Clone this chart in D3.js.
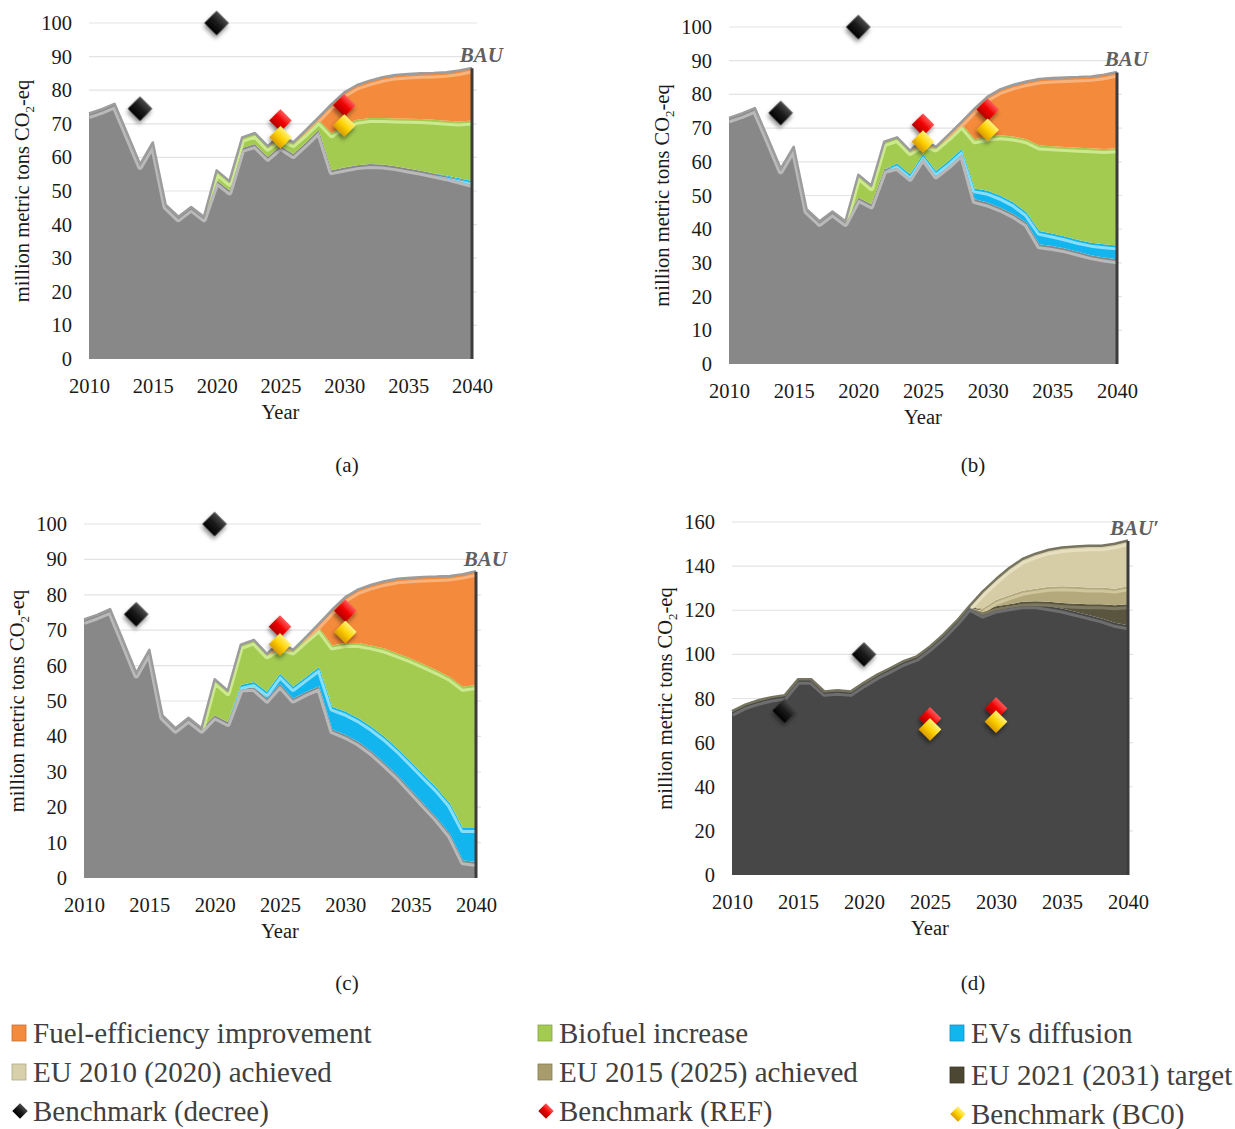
<!DOCTYPE html>
<html>
<head>
<meta charset="utf-8">
<script src="https://cdn.jsdelivr.net/npm/d3@7/dist/d3.min.js"></script>
<style>
  body { margin: 0; background: #fff; }
  svg { font-family: "Liberation Serif", "Times New Roman", serif; }
</style>
</head>
<body>
<div id="chart-area"></div>
<script>
// ---------------- data (million metric tons CO2-eq) ----------------
const years = [2010, 2011, 2012, 2013, 2014, 2015, 2016, 2017, 2018, 2019, 2020,
  2021, 2022, 2023, 2024, 2025, 2026, 2027, 2028, 2029, 2030,
  2031, 2032, 2033, 2034, 2035, 2036, 2037, 2038, 2039, 2040];
const xTicks = [2010, 2015, 2020, 2025, 2030, 2035, 2040];
const yTicks100 = [0, 10, 20, 30, 40, 50, 60, 70, 80, 90, 100];
const yTicks160 = [0, 20, 40, 60, 80, 100, 120, 140, 160];

// BAU total (top of the stack in a, b, c)
const bau = [72.9, 74.2, 75.8, 66.9, 57.8, 64.3, 45.8, 42.2, 45.1, 42.2, 56,
  52.8, 65.8, 67.1, 63.2, 66.5, 64.3, 68, 71.8, 75.7, 79.2,
  81.4, 82.7, 83.7, 84.4, 84.7, 84.9, 85, 85.2, 85.7, 86.5];

// (a) upper edges of remaining / EVs / biofuel layers
const aRemain = [72.9, 74.2, 75.8, 66.9, 57.8, 64.3, 45.8, 42.2, 45.1, 42.2, 53.2,
  50.2, 62.8, 64, 60.2, 63.5, 61, 64.5, 68.2, 56.2, 57,
  57.7, 58, 57.9, 57.4, 56.7, 56, 55.2, 54.4, 53.4, 52.4];
const aEv = [72.9, 74.2, 75.8, 66.9, 57.8, 64.3, 45.8, 42.2, 45.1, 42.2, 53.2,
  50.2, 62.8, 64, 60.2, 63.5, 61, 64.5, 68.2, 56.2, 57,
  57.7, 58, 57.9, 57.4, 56.7, 56, 55.3, 54.6, 53.8, 53];
const aBio = [72.9, 74.2, 75.8, 66.9, 57.8, 64.3, 45.8, 42.2, 45.1, 42.2, 56,
  52.8, 65.8, 67.1, 63.2, 66, 64.3, 67.6, 71.2, 67.2, 69.7,
  71.2, 71.7, 71.7, 71.6, 71.5, 71.4, 71.2, 70.9, 70.7, 71];

// (b)
const bRemain = [72.9, 74.2, 75.8, 66.9, 57.8, 64.3, 45.8, 42.2, 45.1, 42.2, 49.4,
  47.4, 57.8, 58.8, 55.6, 61.6, 56.3, 59.3, 62.8, 48.9, 47.9,
  46.4, 44.5, 42, 35.5, 35, 34.3, 33.3, 32.3, 31.6, 31.1];
const bEv = [72.9, 74.2, 75.8, 66.9, 57.8, 64.3, 45.8, 42.2, 45.1, 42.2, 49.4,
  47.4, 57.8, 59.5, 56.3, 62.3, 57.3, 60.3, 63.8, 52.1, 51.4,
  49.9, 47.9, 45, 39.5, 38.7, 37.8, 36.8, 36, 35.5, 35.2];
const bBio = [72.9, 74.2, 75.8, 66.9, 57.8, 64.3, 45.8, 42.2, 45.1, 42.2, 56,
  52.8, 65.8, 67.1, 63.2, 65.5, 64.3, 67.6, 71.2, 66.7, 67.5,
  67.9, 67.5, 66.7, 64.8, 64.6, 64.4, 64.2, 64, 63.8, 64];

// (c)
const cRemain = [72.9, 74.2, 75.8, 66.9, 57.8, 64.3, 45.8, 42.2, 45.1, 42.2, 46,
  44.1, 53.8, 54, 50.7, 54.9, 50.7, 52.6, 54.2, 42, 40.5,
  38.5, 35.8, 32.5, 29, 25, 21, 17, 12.5, 5, 4.5];
const cEv = [72.9, 74.2, 75.8, 66.9, 57.8, 64.3, 45.8, 42.2, 45.1, 42.2, 46,
  44.1, 54.5, 55.4, 52.6, 57.7, 54, 56.8, 59.6, 48.4, 47,
  45.1, 42.7, 39.9, 36.6, 32.9, 29.1, 25.4, 21.1, 14.1, 14.1];
const cBio = [72.9, 74.2, 75.8, 66.9, 57.8, 64.3, 45.8, 42.2, 45.1, 42.2, 56,
  52.8, 65.8, 67.1, 63.2, 65.3, 64.3, 67.6, 70.7, 65.7, 66.4,
  66.4, 65.7, 64.8, 63.4, 62, 60.4, 58.7, 56.8, 54, 54.5];

// (d) BAU' and upper edges of remaining / EU 2021 / EU 2015 layers
const bauD = [74, 77, 79, 80.4, 81.3, 88.5, 88.5, 83, 83.5, 83, 87,
  90.6, 93.6, 96.7, 98.9, 103.4, 108.7, 114.8, 121.8, 128.3, 133.9,
  138.9, 143, 145.4, 147.2, 148.2, 148.7, 149, 149, 149.9, 151.4];
const dRemain = [74, 77, 79, 80.4, 81.3, 88.5, 88.5, 83, 83.5, 83, 87,
  90.6, 93.6, 96.7, 98.9, 103.4, 108.7, 114.8, 121.8, 118.5, 120.8,
  121.8, 122.7, 122.7, 121.8, 120.8, 119.3, 117.8, 116.3, 114.3, 113.2];
const dEu2021 = [74, 77, 79, 80.4, 81.3, 88.5, 88.5, 83, 83.5, 83, 87,
  90.6, 93.6, 96.7, 98.9, 103.4, 108.7, 114.8, 121.8, 120, 121.8,
  122.7, 123.8, 124.1, 123.8, 123.3, 123, 122.7, 122.7, 122.3, 122.7];
const dEu2015 = [74, 77, 79, 80.4, 81.3, 88.5, 88.5, 83, 83.5, 83, 87,
  90.6, 93.6, 96.7, 98.9, 103.4, 108.7, 114.8, 121.8, 120.8, 124.6,
  126.8, 128.8, 129.8, 130.6, 130.9, 130.6, 130.3, 130.3, 129.8, 130.9];

// benchmarks
const decreeYears = [2014, 2020];
const decreeVals = [74.5, 100];
const refYears = [2025, 2030];
const refVals = [71, 75.5];
const bc0Years = [2025, 2030];
const bc0Vals = [66, 69.5];

// ---------------- styling ----------------
const zeros = years.map(() => 0);
const col = {
  gray: '#888888', grayLight: '#b9b9b9',
  blue: '#12b5ee', blueLight: '#86defb',
  green: '#a3cb50', greenLight: '#cde98f',
  orange: '#f48a3b', orangeLight: '#f9b27a',
  dark: '#474747', darkLight: '#6e6e6e',
  eu2021: '#5a553f', eu2021Light: '#7d7860',
  eu2015: '#b3a97d', eu2015Light: '#cfc69d',
  eu2010: '#d6cda7', eu2010Light: '#e6dfc0'
};

const svg = d3.select('#chart-area')
  .append('svg')
  .attr('width', 1235)
  .attr('height', 1129);

const defs = svg.append('defs');

// drop shadow for markers
const sh = defs.append('filter').attr('id', 'shadow')
  .attr('x', '-50%').attr('y', '-50%').attr('width', '200%').attr('height', '200%');
sh.append('feDropShadow').attr('dx', 1.5).attr('dy', 3)
  .attr('stdDeviation', 2).attr('flood-color', '#000').attr('flood-opacity', 0.45);

// diamond gradients
const diamondGrads = {
  black: ['#4a4a4a', '#1a1a1a', '#000000'],
  red: ['#ff5a5a', '#f00000', '#b00000'],
  yellow: ['#fff27a', '#ffd200', '#d99a00']
};
Object.entries(diamondGrads).forEach(([k, stops]) => {
  const lg = defs.append('linearGradient').attr('id', 'dg-' + k)
    .attr('x1', 0).attr('y1', 0).attr('x2', 0).attr('y2', 1);
  lg.append('stop').attr('offset', '0%').attr('stop-color', stops[0]);
  lg.append('stop').attr('offset', '50%').attr('stop-color', stops[1]);
  lg.append('stop').attr('offset', '100%').attr('stop-color', stops[2]);
});

const markerSets = [
  {xs: decreeYears, vs: decreeVals, grad: 'black', size: 300},
  {xs: refYears, vs: refVals, grad: 'red', size: 255},
  {xs: bc0Years, vs: bc0Vals, grad: 'yellow', size: 255}
];

const panels = [
  {id: 'a', left: 89, right: 472, top: 23, bottom: 359, max: 100, yTicks: yTicks100,
    label: '(a)', lx: 347, ly: 472, bauText: 'BAU', total: bau, edge: '#9c9c9c',
    layers: [
      {lo: zeros, hi: aRemain, fill: col.gray, light: col.grayLight},
      {lo: aRemain, hi: aEv, fill: col.blue, light: col.blueLight},
      {lo: aEv, hi: aBio, fill: col.green, light: col.greenLight},
      {lo: aBio, hi: bau, fill: col.orange, light: col.orangeLight}]},
  {id: 'b', left: 729, right: 1117, top: 27, bottom: 364, max: 100, yTicks: yTicks100,
    label: '(b)', lx: 973, ly: 472, bauText: 'BAU', total: bau, edge: '#9c9c9c',
    layers: [
      {lo: zeros, hi: bRemain, fill: col.gray, light: col.grayLight},
      {lo: bRemain, hi: bEv, fill: col.blue, light: col.blueLight},
      {lo: bEv, hi: bBio, fill: col.green, light: col.greenLight},
      {lo: bBio, hi: bau, fill: col.orange, light: col.orangeLight}]},
  {id: 'c', left: 84, right: 476, top: 524, bottom: 878, max: 100, yTicks: yTicks100,
    label: '(c)', lx: 347, ly: 990, bauText: 'BAU', total: bau, edge: '#9c9c9c',
    layers: [
      {lo: zeros, hi: cRemain, fill: col.gray, light: col.grayLight},
      {lo: cRemain, hi: cEv, fill: col.blue, light: col.blueLight},
      {lo: cEv, hi: cBio, fill: col.green, light: col.greenLight},
      {lo: cBio, hi: bau, fill: col.orange, light: col.orangeLight}]},
  {id: 'd', left: 732, right: 1128, top: 522, bottom: 875, max: 160, yTicks: yTicks160,
    label: '(d)', lx: 973, ly: 990, bauText: 'BAU\u2032', total: bauD, edge: '#77755f',
    layers: [
      {lo: zeros, hi: dRemain, fill: col.dark, light: col.darkLight},
      {lo: dRemain, hi: dEu2021, fill: col.eu2021, light: col.eu2021Light},
      {lo: dEu2021, hi: dEu2015, fill: col.eu2015, light: col.eu2015Light},
      {lo: dEu2015, hi: bauD, fill: col.eu2010, light: col.eu2010Light}]}
];

panels.forEach(p => {
  const x = d3.scaleLinear().domain([2010, 2040]).range([p.left, p.right]);
  const y = d3.scaleLinear().domain([0, p.max]).range([p.bottom, p.top]);
  const g = svg.append('g').attr('class', 'panel-' + p.id);

  // gridlines
  g.selectAll('.grid').data(p.yTicks.slice(1)).enter()
    .append('line')
    .attr('x1', p.left).attr('x2', p.right + 5)
    .attr('y1', d => y(d)).attr('y2', d => y(d))
    .attr('stroke', '#e3e3e3').attr('stroke-width', 1.2);

  // stacked layers
  p.layers.forEach((L, li) => {
    const idx = d3.range(years.length);
    const area = d3.area()
      .x(i => x(years[i]))
      .y0(i => y(L.lo[i]))
      .y1(i => y(L.hi[i]));
    const top = d3.line()
      .x(i => x(years[i]))
      .y(i => y(L.hi[i]));
    const cid = 'clip-' + p.id + li;
    defs.append('clipPath').attr('id', cid)
      .append('path').attr('d', area(idx));
    g.append('path').attr('d', area(idx)).attr('fill', L.fill);
    // bevel highlight under the upper edge
    g.append('path').attr('d', top(idx))
      .attr('clip-path', `url(#${cid})`)
      .attr('fill', 'none')
      .attr('stroke', L.light)
      .attr('stroke-width', 6)
      .attr('stroke-linejoin', 'round')
      .attr('transform', 'translate(0,2)');
  });

  // outer (BAU) edge
  const totalLine = d3.line()
    .x((d, i) => x(years[i]))
    .y(d => y(d));
  g.append('path').attr('d', totalLine(p.total))
    .attr('fill', 'none').attr('stroke', p.edge).attr('stroke-width', 2.5)
    .attr('stroke-linejoin', 'round').attr('transform', 'translate(0,-0.5)');
  // right side (depth) edge
  g.append('line')
    .attr('x1', x(2040)).attr('x2', x(2040))
    .attr('y1', y(p.total[p.total.length - 1])).attr('y2', y(0))
    .attr('stroke', '#3c3c3c').attr('stroke-width', 3);

  // axes
  const yAxis = d3.axisLeft(y).tickValues(p.yTicks).tickSize(0).tickPadding(17);
  const gy = g.append('g').attr('transform', `translate(${p.left},0)`).call(yAxis);
  const xAxis = d3.axisBottom(x).tickValues(xTicks).tickSize(0).tickPadding(19)
    .tickFormat(d3.format('d'));
  const gx = g.append('g').attr('transform', `translate(0,${p.bottom})`).call(xAxis);
  [gx, gy].forEach(a => {
    a.select('.domain').remove();
    a.selectAll('text').attr('font-size', 20.5).attr('fill', '#1a1a1a')
      .attr('font-family', '"Liberation Serif", "Times New Roman", serif');
  });

  // axis titles
  g.append('text')
    .attr('x', (p.left + p.right) / 2)
    .attr('y', p.bottom + 60)
    .attr('text-anchor', 'middle')
    .attr('font-size', 20.5).attr('fill', '#1a1a1a')
    .text('Year');
  const yl = g.append('text')
    .attr('transform', `translate(${p.left - 60},${(p.top + p.bottom) / 2}) rotate(-90)`)
    .attr('text-anchor', 'middle')
    .attr('font-size', 20.5).attr('fill', '#1a1a1a');
  yl.append('tspan').text('million metric tons CO');
  yl.append('tspan').attr('font-size', 13).attr('dy', 5).text('2');
  yl.append('tspan').attr('dy', -5).text('-eq');

  // BAU label
  g.append('text')
    .attr('x', p.right + 31)
    .attr('y', y(p.total[p.total.length - 1]) - 6)
    .attr('text-anchor', 'end')
    .attr('font-size', 21).attr('font-weight', 'bold').attr('font-style', 'italic')
    .attr('fill', '#5f5f5f')
    .text(p.bauText);

  // benchmark markers
  markerSets.forEach(m => {
    g.selectAll(null).data(m.xs.map((yr, i) => [yr, m.vs[i]])).enter()
      .append('path')
      .attr('d', d3.symbol().type(d3.symbolSquare).size(m.size)())
      .attr('transform', d => `translate(${x(d[0])},${y(d[1])}) rotate(45)`)
      .attr('fill', `url(#dg-${m.grad})`)
      .attr('filter', 'url(#shadow)');
  });

  // panel label
  svg.append('text')
    .attr('x', p.lx).attr('y', p.ly)
    .attr('text-anchor', 'middle')
    .attr('font-size', 21).attr('fill', '#1a1a1a')
    .text(p.label);
});

// ---------------- legend ----------------
const legendItems = [
  {name: 'Fuel-efficiency improvement', kind: 'rect', color: col.orange},
  {name: 'Biofuel increase', kind: 'rect', color: col.green},
  {name: 'EVs diffusion', kind: 'rect', color: col.blue},
  {name: 'EU 2010 (2020) achieved', kind: 'rect', color: '#d8cfab'},
  {name: 'EU 2015 (2025) achieved', kind: 'rect', color: '#a79c6a'},
  {name: 'EU 2021 (2031) target', kind: 'rect', color: '#4b4733'},
  {name: 'Benchmark (decree)', kind: 'diamond', grad: 'black'},
  {name: 'Benchmark (REF)', kind: 'diamond', grad: 'red'},
  {name: 'Benchmark (BC0)', kind: 'diamond', grad: 'yellow'}
];
const legendCols = [12, 538, 950];
const legendRows = [1033, 1072, 1111];

const lg = svg.append('g').attr('class', 'legend');
legendItems.forEach((it, i) => {
  const cx = legendCols[i % 3];
  const cy = legendRows[Math.floor(i / 3)] + (i % 3 === 2 && i > 2 ? 3 : 0);
  const item = lg.append('g').attr('transform', `translate(${cx},${cy})`);
  if (it.kind === 'rect') {
    item.append('rect').attr('x', 0).attr('y', -8).attr('width', 14).attr('height', 16)
      .attr('fill', it.color).attr('stroke', d3.color(it.color).darker(0.6)).attr('stroke-width', 0.8);
  } else {
    item.append('path')
      .attr('d', d3.symbol().type(d3.symbolSquare).size(120)())
      .attr('transform', 'translate(8,0) rotate(45)')
      .attr('fill', `url(#dg-${it.grad})`);
  }
  item.append('text')
    .attr('x', 21).attr('y', 0).attr('dy', '0.35em')
    .attr('font-size', 29).attr('fill', '#404040')
    .text(it.name);
});
</script>
</body>
</html>
